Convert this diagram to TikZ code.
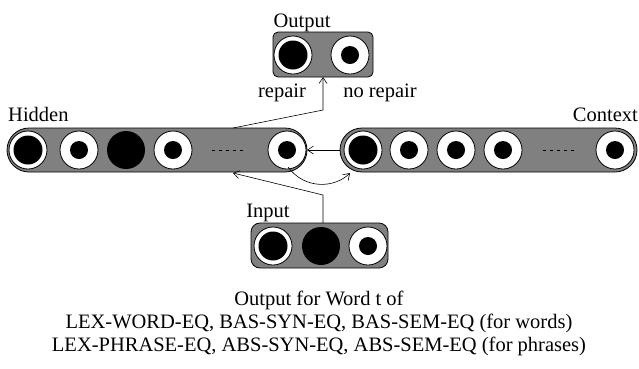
\documentclass[tikz,border=0pt]{standalone}
\usepackage{fontspec}
\setmainfont{Liberation Serif}
\usetikzlibrary{arrows.meta}
\begin{document}
\begin{tikzpicture}[x=1pt,y=-1pt,
  bar/.style={draw=black,fill=black!50,line width=0.8pt},
  ring/.style={draw=black,fill=white,line width=0.8pt},
  blob/.style={fill=black},
  dots/.style={dash pattern=on 3pt off 4pt,line width=0.7pt},
  lbl/.style={font=\fontsize{20.5}{23}\selectfont,inner sep=0pt},
  link/.style={draw=black,line width=0.6pt,-{Straight Barb[length=6pt,width=8pt]}}
]
\useasboundingbox (0,0) rectangle (639,368);

% unit shapes
\newcommand{\bigunit}[2]{\draw[ring] (#1,#2) circle (19); \fill[blob] (#1,#2) circle (14.5);}
\newcommand{\smallunit}[2]{\draw[ring] (#1,#2) circle (19); \fill[blob] (#1,#2) circle (9);}
\newcommand{\fullunit}[2]{\fill[blob] (#1,#2) circle (19);}

% hidden layer
\path[bar,rounded corners=22pt] (7,128) rectangle (307,172);
\bigunit{28}{150}
\smallunit{79}{150}
\fullunit{126}{150}
\smallunit{173}{150}
\draw[dots] (212,150) -- (246,150);
\smallunit{287}{150}
\node[lbl,anchor=base west] (hlab) at (8,121) {Hidden};

% context layer
\path[bar,rounded corners=22pt] (340,128) rectangle (637,172);
\bigunit{363}{150}
\smallunit{409}{150}
\smallunit{456}{150}
\smallunit{503}{150}
\draw[dots] (543,150) -- (577,150);
\smallunit{615}{150}
\node[lbl,anchor=base east] (clab) at (638,121) {Context};

% output layer
\path[bar,rounded corners=5pt] (273,32) rectangle (373,77);
\bigunit{293}{55}
\smallunit{350}{55}
\node[lbl,anchor=base] (olab) at (302,27) {Output};
\node[lbl,anchor=base] (rep) at (282,97) {repair};
\node[lbl,anchor=base] (norep) at (380,97) {no repair};

% input layer
\path[bar,rounded corners=9pt] (251,223) rectangle (388,268);
\bigunit{273}{246}
\fullunit{321}{246}
\smallunit{368}{246}
\node[lbl,anchor=base] (ilab) at (268,217) {Input};

% anchors for connectors
\coordinate (hidTopOut) at (233,128);
\coordinate (outBend) at (323,110);
\coordinate (outIn) at (323,77);
\coordinate (ctxLeft) at (340,150);
\coordinate (hidRight) at (307,150);
\coordinate (hidBotCurve) at (288,167);
\coordinate (ctxBotIn) at (350,173);
\coordinate (inTop) at (323,223);
\coordinate (inBend) at (323,195);
\coordinate (hidBotIn) at (233,173);

% connectors
\draw[link] (hidTopOut) -- (outBend) -- (outIn);
\draw[link] (ctxLeft) -- (hidRight);
\draw[link] (hidBotCurve) .. controls (305,190) and (335,188) .. (ctxBotIn);
\draw[link] (inTop) -- (inBend) -- (hidBotIn);

% caption
\node[lbl,align=center,anchor=north] (cap) at (319,291)
  {Output for Word t of\\
   LEX-WORD-EQ, BAS-SYN-EQ, BAS-SEM-EQ (for words)\\
   LEX-PHRASE-EQ, ABS-SYN-EQ, ABS-SEM-EQ (for phrases)};
\end{tikzpicture}
\end{document}
